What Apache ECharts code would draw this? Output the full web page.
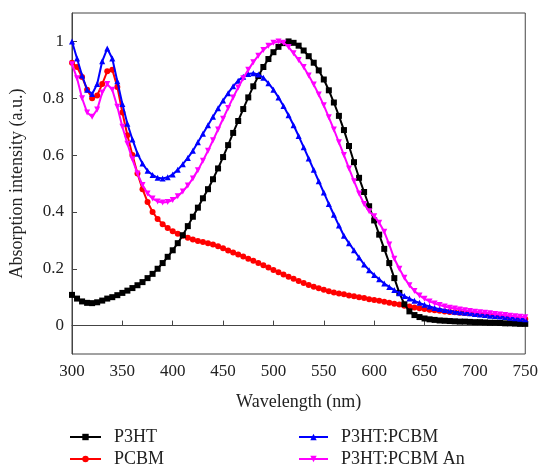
<!DOCTYPE html>
<html>
<head>
<meta charset="utf-8">
<script src="https://cdn.jsdelivr.net/npm/echarts@6/dist/echarts.min.js"></script>
<style>
html,body{margin:0;padding:0;background:#fff;}
#chart{width:541px;height:468px;}
</style>
</head>
<body>
<div id="chart"></div>
<script>
const wavelengths = [
300,305,310,315,320,325,330,335,340,345,
350,355,360,365,370,375,380,385,390,395,
400,405,410,415,420,425,430,435,440,445,
450,455,460,465,470,475,480,485,490,495,
500,505,510,515,520,525,530,535,540,545,
550,555,560,565,570,575,580,585,590,595,
600,605,610,615,620,625,630,635,640,645,
650,655,660,665,670,675,680,685,690,695,
700,705,710,715,720,725,730,735,740,745,
750];

const p3ht = [
0.108,0.095,0.085,0.080,0.079,0.082,0.088,0.095,0.100,0.107,
0.115,0.123,0.132,0.142,0.153,0.167,0.182,0.200,0.220,0.242,
0.265,0.290,0.318,0.350,0.383,0.415,0.448,0.480,0.515,0.553,
0.593,0.635,0.678,0.720,0.762,0.803,0.842,0.878,0.910,0.938,
0.962,0.981,0.994,1.000,0.995,0.985,0.968,0.948,0.925,0.898,
0.866,0.828,0.785,0.738,0.688,0.632,0.575,0.520,0.470,0.420,
0.370,0.320,0.270,0.220,0.167,0.115,0.075,0.050,0.037,0.030,
0.025,0.022,0.020,0.018,0.017,0.016,0.015,0.014,0.014,0.013,
0.012,0.012,0.011,0.010,0.010,0.009,0.008,0.008,0.007,0.006,
0.006];

const pcbm = [
0.925,0.910,0.875,0.830,0.800,0.810,0.850,0.895,0.900,0.840,
0.750,0.670,0.600,0.535,0.480,0.435,0.400,0.375,0.357,0.343,
0.332,0.323,0.316,0.309,0.303,0.298,0.294,0.290,0.285,0.279,
0.272,0.264,0.257,0.250,0.243,0.235,0.228,0.220,0.212,0.204,
0.196,0.188,0.180,0.172,0.165,0.157,0.150,0.143,0.137,0.131,
0.126,0.121,0.116,0.113,0.110,0.106,0.103,0.100,0.097,0.093,
0.090,0.087,0.084,0.080,0.077,0.074,0.070,0.067,0.064,0.061,
0.058,0.056,0.054,0.052,0.050,0.048,0.047,0.045,0.044,0.043,
0.041,0.040,0.038,0.037,0.035,0.033,0.031,0.029,0.027,0.025,
0.023];

const blend = [
1.000,0.940,0.880,0.830,0.815,0.850,0.930,0.975,0.940,0.860,
0.780,0.710,0.655,0.605,0.570,0.545,0.530,0.520,0.518,0.522,
0.532,0.548,0.568,0.590,0.615,0.645,0.675,0.705,0.735,0.765,
0.792,0.818,0.842,0.862,0.876,0.885,0.888,0.884,0.872,0.853,
0.830,0.803,0.773,0.740,0.705,0.667,0.628,0.588,0.548,0.508,
0.468,0.428,0.390,0.352,0.316,0.290,0.265,0.240,0.215,0.195,
0.178,0.163,0.148,0.136,0.125,0.114,0.104,0.095,0.087,0.080,
0.073,0.067,0.062,0.058,0.055,0.052,0.049,0.047,0.045,0.043,
0.041,0.039,0.037,0.035,0.034,0.032,0.030,0.028,0.026,0.024,
0.022];

const annealed = [
0.920,0.870,0.800,0.750,0.735,0.760,0.820,0.850,0.830,0.770,
0.700,0.640,0.585,0.535,0.495,0.465,0.447,0.437,0.433,0.435,
0.442,0.455,0.472,0.493,0.518,0.547,0.580,0.615,0.652,0.690,
0.728,0.766,0.803,0.838,0.870,0.900,0.927,0.950,0.970,0.985,
0.995,1.000,0.995,0.980,0.958,0.935,0.910,0.880,0.848,0.813,
0.775,0.733,0.690,0.645,0.600,0.553,0.508,0.465,0.428,0.402,
0.385,0.362,0.330,0.285,0.235,0.200,0.168,0.142,0.122,0.106,
0.094,0.085,0.078,0.072,0.067,0.063,0.060,0.057,0.054,0.051,
0.049,0.047,0.045,0.043,0.041,0.039,0.037,0.035,0.033,0.031,
0.029];

const seriesNames = ['P3HT', 'PCBM', 'P3HT:PCBM', 'P3HT:PCBM An'];
const yTickValues = [0, 0.2, 0.4, 0.6, 0.8, 1];
const xTitle = 'Wavelength (nm)';
const yTitle = 'Absorption intensity (a.u.)';

const FONT = '"Liberation Serif", "DejaVu Serif", serif';
const pairs = arr => wavelengths.map((w, i) => [w, arr[i]]);

function mkSeries(name, data, color, symbol, rotate, z) {
  return {
    name: name,
    type: 'line',
    data: pairs(data),
    color: color,
    symbol: symbol,
    symbolRotate: rotate,
    symbolSize: 6,
    showSymbol: true,
    showAllSymbol: true,
    z: z,
    lineStyle: { color: color, width: 2 },
    itemStyle: { color: color, borderWidth: 0 },
    emphasis: { disabled: true },
    animation: false
  };
}

const legendText = { fontFamily: FONT, fontSize: 18, color: '#222', padding: [0, 0, 0, 8] };

const chart = echarts.init(document.getElementById('chart'), null, { renderer: 'canvas' });
chart.setOption({
  backgroundColor: '#ffffff',
  animation: false,
  grid: {
    left: 69, right: 12, top: 13, bottom: 114,
    show: true, borderColor: '#444', borderWidth: 1, backgroundColor: 'transparent'
  },
  legend: [
    {
      data: [seriesNames[0], seriesNames[1]],
      left: 69, top: 428, orient: 'vertical', padding: 0,
      itemWidth: 31, itemHeight: 8, itemGap: 4,
      textStyle: legendText,
      selectedMode: false
    },
    {
      data: [seriesNames[2], seriesNames[3]],
      left: 298, top: 428, orient: 'vertical', padding: 0,
      itemWidth: 29, itemHeight: 8, itemGap: 4,
      textStyle: legendText,
      selectedMode: false
    }
  ],
  xAxis: {
    type: 'value', min: 300, max: 750, interval: 50,
    name: xTitle, nameLocation: 'middle', nameGap: 39,
    nameTextStyle: { fontFamily: FONT, fontSize: 18, color: '#222' },
    axisLine: { show: true, lineStyle: { color: '#444', width: 1 } },
    axisTick: { show: true, inside: true, length: 5, lineStyle: { color: '#444' } },
    axisLabel: { fontFamily: FONT, fontSize: 17, color: '#222', margin: 9 },
    splitLine: { show: false }
  },
  yAxis: {
    type: 'value', min: -0.1, max: 1.1,
    name: yTitle, nameLocation: 'middle', nameGap: 46,
    nameTextStyle: { fontFamily: FONT, fontSize: 18, color: '#222' },
    axisLine: { show: true, lineStyle: { color: '#444', width: 1 } },
    axisTick: { show: true, inside: true, length: 5, customValues: yTickValues, lineStyle: { color: '#444' } },
    axisLabel: {
      fontFamily: FONT, fontSize: 17, color: '#222', margin: 8,
      customValues: yTickValues,
      formatter: v => String(+(+v).toFixed(1))
    },
    splitLine: { show: false }
  },
  series: [
    mkSeries(seriesNames[0], p3ht, '#000000', 'rect', 0, 4),
    mkSeries(seriesNames[1], pcbm, '#ff0000', 'circle', 0, 3),
    mkSeries(seriesNames[2], blend, '#0000ff', 'triangle', 0, 5),
    mkSeries(seriesNames[3], annealed, '#ff00ff', 'triangle', 180, 6)
  ]
});
</script>
</body>
</html>
